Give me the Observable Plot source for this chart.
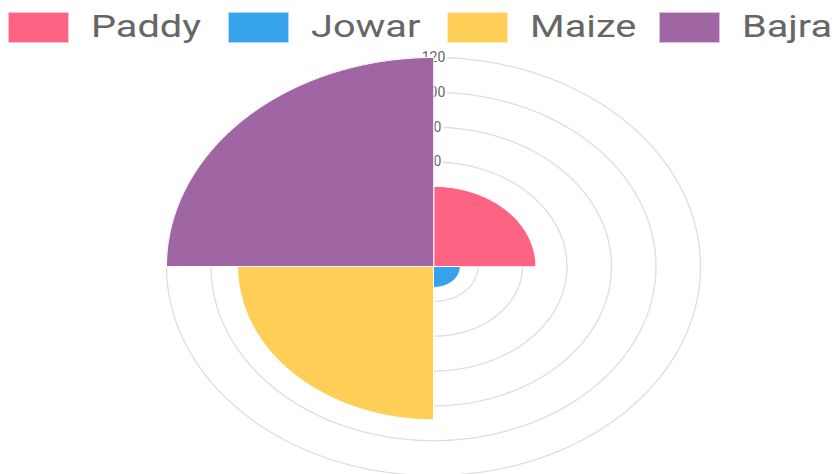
<!DOCTYPE html>
<html>
<head>
<meta charset="utf-8">
<script src="https://cdn.jsdelivr.net/npm/d3@7"></script>
<script src="https://cdn.jsdelivr.net/npm/@observablehq/plot@0.6"></script>
<style>
  html, body { margin: 0; padding: 0; background: #fff; }
  #wrap { position: relative; width: 834px; height: 474px; overflow: hidden; }
  #legend { position: relative; height: 50px; }
  .item { position: absolute; top: 12px; height: 31px; }
  .box { position: absolute; left: 0; top: 0; width: 61px; height: 31px; border: 1px solid rgba(255,255,255,0.6); box-sizing: border-box; }
  .lab { position: absolute; top: -4px; font-family: Roboto, "Liberation Sans", sans-serif; font-size: 31px; color: #666; white-space: nowrap; transform: scaleX(1.28); transform-origin: left center; }
  svg { display: block; }
</style>
</head>
<body>
<div id="wrap">
  <div id="legend"></div>
  <div id="chart"></div>
</div>
<script>
const categories = ["Paddy", "Jowar", "Maize", "Bajra"];
const values = [46, 12, 88, 120];
const colors = ["#FF6384", "#36A2EB", "#FFCE56", "#A065A3"];
const tickValues = [20, 40, 60, 80, 100, 120];

// legend (HTML, above the svg)
const legendLefts = [8, 228, 447, 659];
const legend = document.getElementById("legend");
categories.forEach((c, i) => {
  const it = document.createElement("div");
  it.className = "item";
  it.style.left = legendLefts[i] + "px";
  const b = document.createElement("div");
  b.className = "box";
  b.style.background = colors[i];
  const t = document.createElement("div");
  t.className = "lab";
  t.style.left = "83px";
  t.textContent = c;
  it.appendChild(b); it.appendChild(t);
  legend.appendChild(it);
});

const rad = Math.PI / 180;
// rings
const ringPts = tickValues.flatMap(r => d3.range(0, 360, 2).map(a => ({r, a})));
// wedges: each category spans an equal sector, clockwise from top
const step = 360 / categories.length;
const wedgePts = categories.flatMap((c, i) => {
  const v = values[i];
  const pts = [{c, x: 0, y: 0}];
  for (let a = i * step; a <= (i + 1) * step + 1e-9; a += 1) {
    pts.push({c, x: v * Math.sin(a * rad), y: v * Math.cos(a * rad)});
  }
  return pts;
});

const max = d3.max(tickValues);
const cx = 433, cy = 216, rx = 267, ry = 209;

const plot = Plot.plot({
  width: 834,
  height: 424,
  margin: 0,
  x: {domain: [-max, max], range: [cx - rx, cx + rx], axis: null},
  y: {domain: [-max, max], range: [cy + ry, cy - ry], axis: null},
  color: {domain: categories, range: colors},
  marks: [
    Plot.line(ringPts, {
      x: d => d.r * Math.sin(d.a * rad),
      y: d => d.r * Math.cos(d.a * rad),
      z: "r",
      curve: "linear-closed",
      stroke: "#dedede",
      strokeWidth: 1.3
    }),
    Plot.text(tickValues, {
      x: () => 0,
      y: d => d,
      text: d => String(d),
      fill: "#666",
      stroke: "white",
      strokeWidth: 5,
      fontSize: 14,
      fontFamily: "Roboto, 'Liberation Sans', sans-serif"
    }),
    Plot.line(wedgePts, {
      x: "x",
      y: "y",
      z: "c",
      fill: "c",
      stroke: "white",
      strokeWidth: 1,
      curve: "linear-closed"
    })
  ]
});
document.getElementById("chart").appendChild(plot);
</script>
</body>
</html>
